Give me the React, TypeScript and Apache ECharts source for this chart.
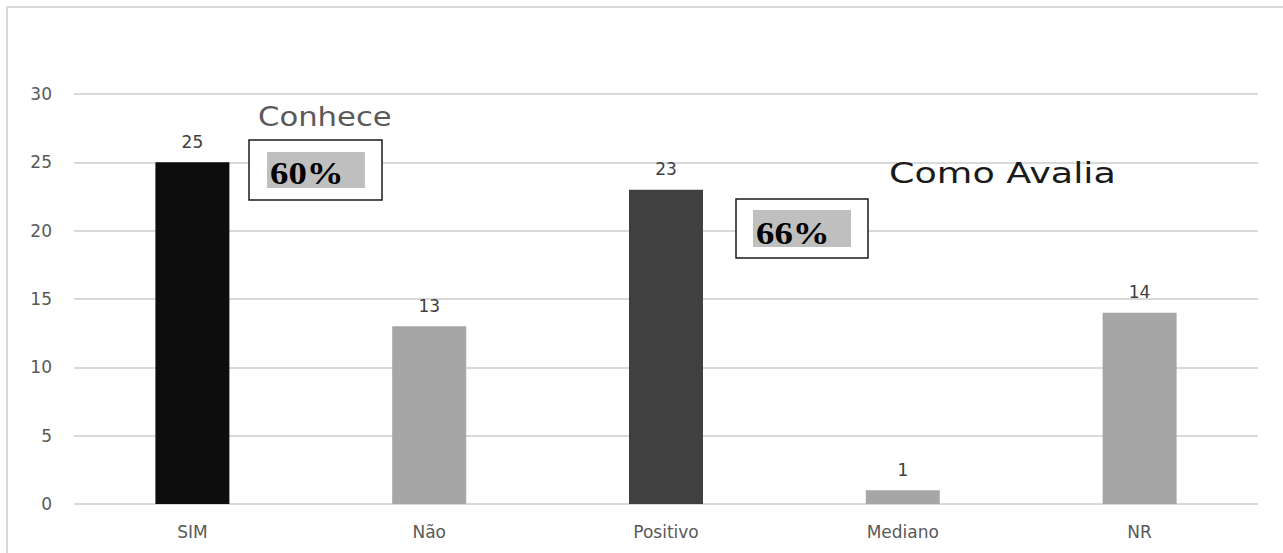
import React, { useEffect, useRef } from "react";
import * as echarts from "echarts";

const categories = ["SIM", "Não", "Positivo", "Mediano", "NR"];
const values = [25, 13, 23, 1, 14];
const barColors = ["#0d0d0d", "#a6a6a6", "#404040", "#a6a6a6", "#a6a6a6"];
const yTicks = { min: 0, max: 30, interval: 5 };
const annotations = {
  conhece: "Conhece",
  conhecePct: "60%",
  avalia: "Como Avalia",
  avaliaPct: "66%",
};

export default function App() {
  const ref = useRef<HTMLDivElement>(null);
  useEffect(() => {
    document.body.style.margin = "0";
    const chart = echarts.init(ref.current!, null, { renderer: "svg" });
    const font = "'DejaVu Sans', sans-serif";
    const serif = "'Liberation Serif', 'DejaVu Serif', serif";
    chart.setOption({
      animation: false,
      backgroundColor: "#ffffff",
      grid: { left: 74, right: 25, top: 94, bottom: 49, containLabel: false },
      xAxis: {
        type: "category",
        data: categories,
        axisLine: { show: false },
        axisTick: { show: false },
        axisLabel: { color: "#595959", fontSize: 17, fontFamily: font, margin: 19 },
      },
      yAxis: {
        type: "value",
        min: yTicks.min,
        max: yTicks.max,
        interval: yTicks.interval,
        axisLine: { show: false },
        axisTick: { show: false },
        splitLine: { lineStyle: { color: "#d9d9d9", width: 2 } },
        axisLabel: { color: "#595959", fontSize: 17, fontFamily: font, margin: 22 },
      },
      series: [
        {
          type: "bar",
          barWidth: 74,
          data: values.map((v, i) => ({ value: v, itemStyle: { color: barColors[i] } })),
          label: {
            show: true,
            position: "top",
            distance: 12,
            color: "#404040",
            fontSize: 17,
            fontFamily: font,
          },
        },
      ],
      graphic: [
        {
          type: "rect",
          z: 100,
          shape: { x: 7, y: 7, width: 1300, height: 600 },
          style: { fill: "none", stroke: "#d9d9d9", lineWidth: 2 },
          silent: true,
        },
        {
          type: "text",
          z: 100,
          x: 258,
          y: 117,
          scaleX: 1.18,
          style: {
            text: annotations.conhece,
            font: `26px ${font}`,
            fill: "#595959",
            textVerticalAlign: "middle",
          },
        },
        {
          type: "rect",
          z: 100,
          shape: { x: 249, y: 140, width: 133, height: 60 },
          style: { fill: "#ffffff", stroke: "#1a1a1a", lineWidth: 1.5 },
        },
        {
          type: "rect",
          z: 101,
          shape: { x: 267, y: 152, width: 98, height: 36 },
          style: { fill: "#bfbfbf" },
        },
        {
          type: "text",
          z: 102,
          x: 270,
          y: 173,
          scaleX: 1.15,
          style: {
            text: annotations.conhecePct,
            font: `bold 32px ${serif}`,
            fill: "#000000",
            textVerticalAlign: "middle",
          },
        },
        {
          type: "rect",
          z: 100,
          shape: { x: 736, y: 199, width: 132, height: 59 },
          style: { fill: "#ffffff", stroke: "#1a1a1a", lineWidth: 1.5 },
        },
        {
          type: "rect",
          z: 101,
          shape: { x: 753, y: 210, width: 98, height: 37 },
          style: { fill: "#bfbfbf" },
        },
        {
          type: "text",
          z: 102,
          x: 756,
          y: 233,
          scaleX: 1.15,
          style: {
            text: annotations.avaliaPct,
            font: `bold 32px ${serif}`,
            fill: "#000000",
            textVerticalAlign: "middle",
          },
        },
        {
          type: "text",
          z: 100,
          x: 889,
          y: 173,
          scaleX: 1.26,
          style: {
            text: annotations.avalia,
            font: `29px ${font}`,
            fill: "#1a1a1a",
            textVerticalAlign: "middle",
          },
        },
      ],
    });
    return () => chart.dispose();
  }, []);
  return <div ref={ref} style={{ width: 1283, height: 553 }} />;
}
